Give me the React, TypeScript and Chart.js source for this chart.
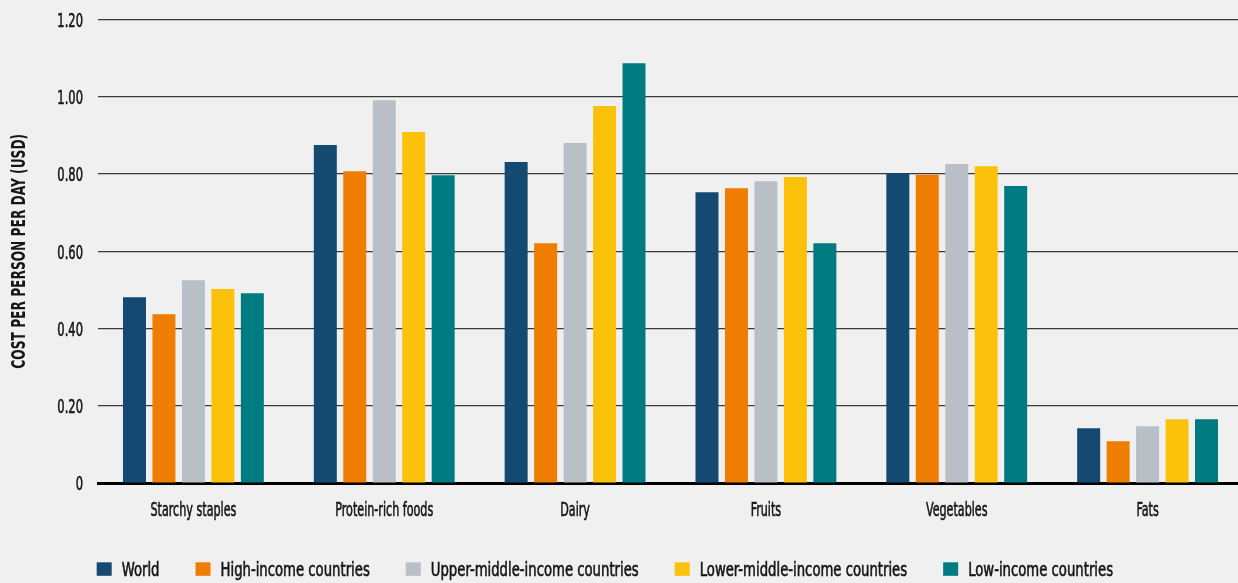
import React, { useEffect, useRef } from "react";
import { Chart, registerables } from "chart.js";

Chart.register(...registerables);

const categories = ["Starchy staples", "Protein-rich foods", "Dairy", "Fruits", "Vegetables", "Fats"];
const seriesNames = [
  "World",
  "High-income countries",
  "Upper-middle-income countries",
  "Lower-middle-income countries",
  "Low-income countries",
];
const world = [0.481, 0.875, 0.831, 0.753, 0.802, 0.142];
const highIncome = [0.437, 0.807, 0.621, 0.763, 0.798, 0.108];
const upperMiddle = [0.525, 0.991, 0.88, 0.781, 0.826, 0.147];
const lowerMiddle = [0.502, 0.909, 0.976, 0.792, 0.82, 0.165];
const lowIncome = [0.491, 0.797, 1.087, 0.621, 0.769, 0.165];
const yTicks = [0, 0.2, 0.4, 0.6, 0.8, 1.0, 1.2];
const yTickLabels = ["0", "0.20", "0.40", "0.60", "0.80", "1.00", "1.20"];
const yTitle = "COST PER PERSON PER DAY (USD)";
const colors = ["#144a72", "#ef7d00", "#b8bfc7", "#fcc10b", "#007b82"];

const FONT = "'DejaVu Sans Condensed', 'DejaVu Sans', sans-serif";
const TEXT_COLOR = "#151515";

function condensedText(ctx: any, text: string, x: number, y: number, sx: number, align: string) {
  ctx.save();
  ctx.translate(x, y);
  ctx.scale(sx, 1);
  ctx.textAlign = align;
  ctx.fillText(text, 0, 0);
  ctx.lineWidth = 0.6;
  ctx.strokeText(text, 0, 0);
  ctx.restore();
}

const bgPlugin = {
  id: "bg",
  beforeDraw(chart: any) {
    const { ctx, width, height } = chart;
    ctx.save();
    ctx.fillStyle = "#f0f0f0";
    ctx.fillRect(0, 0, width, height);
    ctx.restore();
  },
};

const textPlugin = {
  id: "condensedText",
  afterDraw(chart: any) {
    const { ctx } = chart;
    const xs = chart.scales.x;
    const ys = chart.scales.y;
    ctx.save();
    ctx.textBaseline = "alphabetic";
    ctx.fillStyle = TEXT_COLOR;
    ctx.strokeStyle = TEXT_COLOR;

    // y tick labels
    ctx.font = `20px ${FONT}`;
    yTicks.forEach((v, i) => {
      const py = ys.getPixelForValue(v);
      condensedText(ctx, yTickLabels[i], 83, py + 7.3, 0.64, "right");
    });

    // x category labels
    ctx.font = `20px ${FONT}`;
    categories.forEach((c, i) => {
      const px = xs.getPixelForValue(i);
      condensedText(ctx, c, px, 515.5, 0.62, "center");
    });

    // y title
    ctx.font = `bold 20px ${FONT}`;
    ctx.save();
    ctx.translate(25, (ys.top + ys.bottom) / 2);
    ctx.rotate(-Math.PI / 2);
    ctx.scale(0.68, 1);
    ctx.textAlign = "center";
    ctx.fillText(yTitle, 0, 0);
    ctx.restore();

    // legend
    ctx.font = `20px ${FONT}`;
    const sx = 0.735;
    let x = 96.7;
    chart.data.datasets.forEach((ds: any) => {
      ctx.fillStyle = ds.backgroundColor;
      ctx.fillRect(x, 562.3, 15, 13.5);
      ctx.fillStyle = TEXT_COLOR;
      const tx = x + 15 + 10;
      condensedText(ctx, ds.label, tx, 575.7, sx, "left");
      x = tx + ctx.measureText(ds.label).width * sx + 36;
    });
    ctx.restore();
  },
};

export default function App() {
  const ref = useRef<HTMLCanvasElement | null>(null);
  useEffect(() => {
    document.body.style.background = "#f0f0f0";
    const series = [world, highIncome, upperMiddle, lowerMiddle, lowIncome];
    const chart = new Chart(ref.current as HTMLCanvasElement, {
      type: "bar",
      data: {
        labels: categories,
        datasets: series.map((d, i) => ({
          label: seriesNames[i],
          data: d,
          backgroundColor: colors[i],
          borderWidth: 0,
          categoryPercentage: 0.772,
          barPercentage: 0.78,
        })),
      },
      options: {
        animation: false,
        responsive: false,
        maintainAspectRatio: false,
        layout: { padding: { top: 19.5, right: 1, bottom: 0, left: 0 } },
        plugins: {
          legend: { display: false },
          tooltip: { enabled: false },
        },
        scales: {
          x: {
            grid: { display: false, drawTicks: false },
            border: { display: true, color: "#000", width: 3 },
            ticks: { display: false },
            afterFit(scale: any) {
              scale.height = 100;
            },
          },
          y: {
            min: 0,
            max: 1.2,
            afterBuildTicks(scale: any) {
              scale.ticks = yTicks.map((v) => ({ value: v }));
            },
            grid: { color: "#3a3a3a", lineWidth: 1.2, drawTicks: false },
            border: { display: false },
            ticks: { display: false },
            afterFit(scale: any) {
              scale.width = 98;
            },
          },
        },
      },
      plugins: [bgPlugin, textPlugin],
    });
    return () => chart.destroy();
  }, []);
  return (
    <div style={{ position: "fixed", left: 0, top: 0, width: 1238, height: 583, overflow: "hidden", background: "#f0f0f0" }}>
      <canvas ref={ref} width={1244} height={583} style={{ display: "block", width: 1244, height: 583 }} />
    </div>
  );
}
